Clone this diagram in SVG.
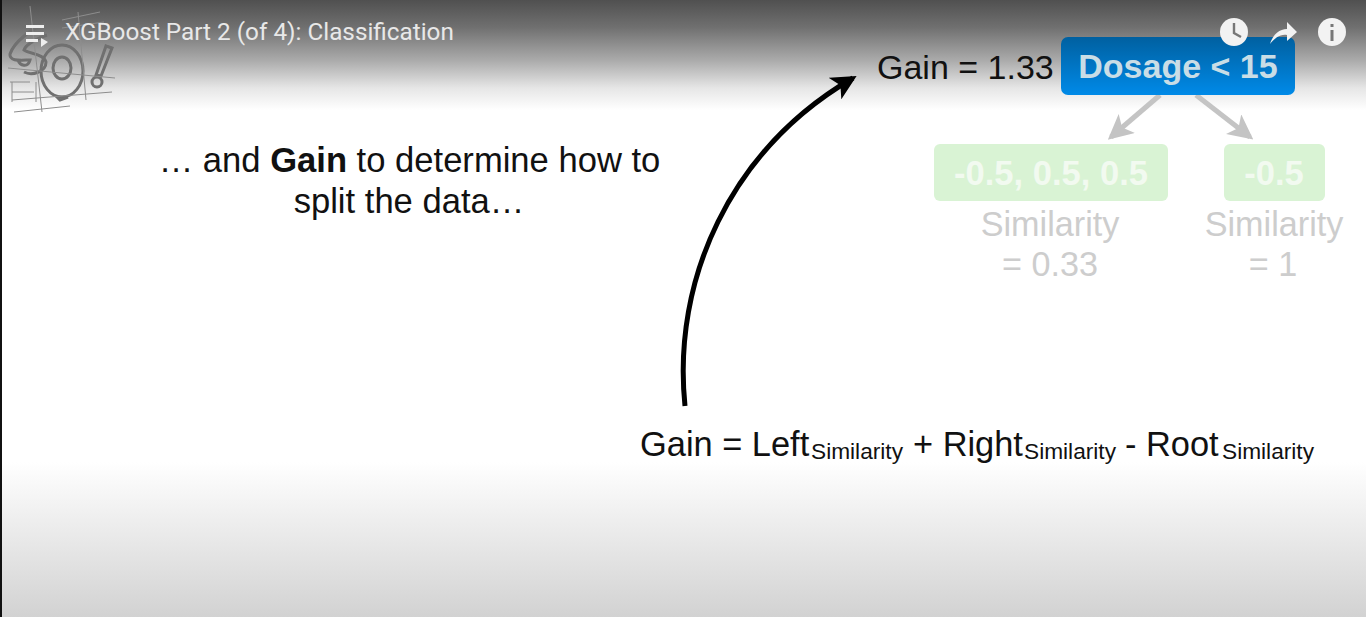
<svg xmlns="http://www.w3.org/2000/svg" width="1366" height="617" viewBox="0 0 1366 617">
<style>
.h{font-family:"Liberation Sans",Arial,sans-serif;fill:#111}
.m{font-size:34.4px}.s{font-size:22.700px}
.g{font-family:"Liberation Sans",Arial,sans-serif;font-size:34.200px;fill:#cdcdcd;text-anchor:middle}
.w{font-family:"Liberation Sans",Arial,sans-serif;font-size:34.600px;font-weight:bold;fill:#f2faf0;text-anchor:middle}
.sk{fill:none;stroke:#8d8d8d;stroke-width:1}
.sb{fill:none;stroke:#6f6f6f;stroke-width:3}
</style>
<defs>
<linearGradient id="top" x1="0" y1="0" x2="0" y2="1"><stop offset="0" stop-color="#505050"/><stop offset=".25" stop-color="#707070"/><stop offset=".55" stop-color="#ababab"/><stop offset=".8" stop-color="#e6e6e6"/><stop offset="1" stop-color="#fff"/></linearGradient>
<linearGradient id="bot" x1="0" y1="0" x2="0" y2="1"><stop offset="0" stop-color="#fff"/><stop offset="1" stop-color="#d2d2d2"/></linearGradient>
<linearGradient id="blue" x1="0" y1="0" x2="0" y2="1"><stop offset="0" stop-color="#0060a0"/><stop offset="1" stop-color="#008ae8"/></linearGradient>
<marker id="ga" viewBox="0 0 12 12" refX="10" refY="6" markerWidth="5" markerHeight="5" orient="auto"><path d="M0 0L12 6L0 12L3 6Z" fill="#c4c4c4"/></marker>
<marker id="ba" viewBox="0 0 12 12" refX="10" refY="6" markerWidth="5" markerHeight="5" orient="auto"><path d="M0 0L12 6L0 12L3 6Z" fill="#000"/></marker>
<filter id="soft" x="-5%" y="-5%" width="110%" height="110%"><feGaussianBlur stdDeviation=".6"/></filter>
</defs>
<rect width="1366" height="617" fill="#fff"/>
<rect x="0" y="462" width="1366" height="155" fill="url(#bot)"/>
<rect x="0" y="0" width="1366" height="110" fill="url(#top)"/>
<rect x="0" y="0" width="2" height="617" fill="#111"/>
<g id="logo" filter="url(#soft)">
<path class="sb" d="M45 24C32 28 14 42 10 54C9 62 22 60 30 60C28 68 20 66 18 60"/>
<path class="sb" d="M47 35C38 38 26 44 24 50C30 54 44 54 46 62C46 72 32 76 24 72"/>
<ellipse class="sb" cx="62" cy="71" rx="21" ry="26"/>
<ellipse class="sb" cx="62" cy="68" rx="9" ry="11" stroke-width="2"/>
<path class="sb" d="M56 96L60 100L68 97"/>
<path class="sb" d="M106 46L112 48L101 76L96 75Z" stroke-width="2.500"/>
<circle class="sb" cx="97" cy="82" r="5"/>
<path class="sk" d="M8 68L115 78M12 100L112 92M14 112L70 106M30 6L42 112M78 12L86 100M62 20L100 12M62 28L104 22M10 82H30M12 92H34M12 82V102M36 82V102"/>
</g>
<g id="connectors">
<path d="M1160 95L1111 137" fill="none" stroke="#c4c4c4" stroke-width="5" marker-end="url(#ga)"/>
<path d="M1196 95L1250 137" fill="none" stroke="#c4c4c4" stroke-width="5" marker-end="url(#ga)"/>
<path d="M685 406C672 280 730 150 853 78" fill="none" stroke="#000" stroke-width="5" marker-end="url(#ba)"/>
</g>
<g id="root"><rect x="1061" y="37" width="234" height="58" rx="7" fill="url(#blue)"/><text x="1178" y="78" text-anchor="middle" style="font-family:'Liberation Sans',Arial,sans-serif;font-size:34px;font-weight:bold;fill:#c9dde6">Dosage &lt; 15</text></g>
<g id="gain-value"><text class="h" style="font-size:34px" x="877" y="79">Gain = 1.33</text></g>
<g id="left-leaf"><rect x="934" y="144" width="234" height="57" rx="6" fill="#d9f3d4"/><text class="w" x="1051" y="185">-0.5, 0.5, 0.5</text></g>
<g id="right-leaf"><rect x="1224" y="144" width="101" height="57" rx="6" fill="#d9f3d4"/><text class="w" x="1274" y="185">-0.5</text></g>
<g id="left-sim"><text class="g" x="1050" y="236">Similarity</text><text class="g" x="1050" y="276">= 0.33</text></g>
<g id="right-sim"><text class="g" x="1274" y="236">Similarity</text><text class="g" x="1273" y="276">= 1</text></g>
<g id="caption"><text class="h" style="font-size:34.600px" x="409.500" y="172" text-anchor="middle">… and <tspan font-weight="bold">Gain</tspan> to determine how to</text><text class="h" style="font-size:34.600px" x="409" y="213" text-anchor="middle">split the data…</text></g>
<g id="formula"><text class="h m" x="640" y="456">Gain = Left</text><text class="h s" x="811" y="459">Similarity</text><text class="h m" x="913" y="456">+ Right</text><text class="h s" x="1024" y="459">Similarity</text><text class="h m" x="1125" y="456">- Root</text><text class="h s" x="1222" y="459">Similarity</text></g>
<g id="player">
<text x="65" y="40" style="font-family:Roboto,sans-serif;font-size:24.300px;fill:#e8e8e8">XGBoost Part 2 (of 4): Classification</text>
<path d="M26 25H44V28H26ZM26 32H44V35H26ZM26 39H38V42H26Z" fill="#eee"/><path d="M41 38L48 42L41 47Z" fill="#eee"/>
<circle cx="1234" cy="32" r="14" fill="#f2f2f2"/><path d="M1234 23V33L1241 37" fill="none" stroke="#777" stroke-width="2.400"/>
<path d="M1270 44C1273 34 1280 29 1287 29V22L1297 32L1287 41V35C1280 34 1275 38 1270 44Z" fill="#f2f2f2"/>
<circle cx="1332" cy="32" r="14" fill="#f2f2f2"/><rect x="1330.500" y="30" width="3" height="11" fill="#777"/><rect x="1330.500" y="24" width="3" height="3" fill="#777"/>
</g>
</svg>
